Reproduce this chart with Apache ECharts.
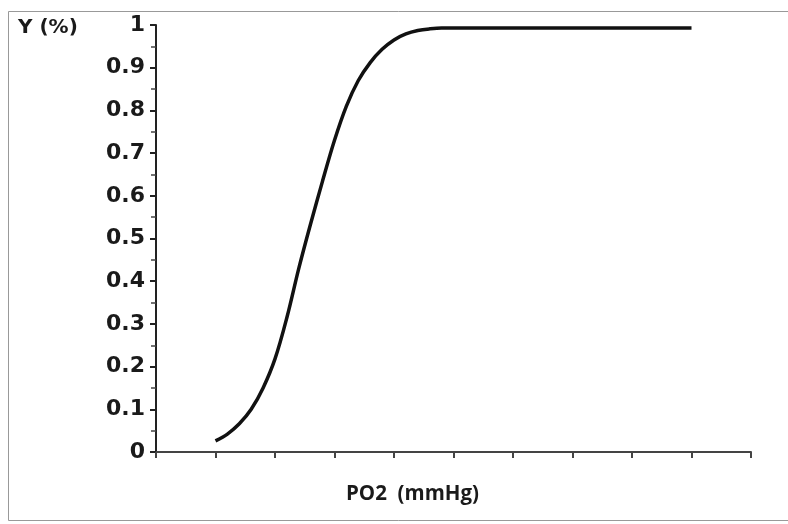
<!DOCTYPE html>
<html>
<head>
<meta charset="utf-8">
<script src="https://cdn.jsdelivr.net/npm/echarts@6/dist/echarts.min.js"></script>
<style>html,body{margin:0;padding:0;background:#fff}#c{width:788px;height:524px}</style>
</head>
<body>
<div id="c"></div>
<script>
// PO2 (mmHg) values (axis units: one tick = 10)
const po2 = [10, 12, 14, 16, 18, 20, 22, 24, 26, 28, 30, 32, 34, 36, 38, 40, 42, 44, 46, 48, 50, 60, 70, 80, 90];
// Saturation Y
const satY = [0.026, 0.042, 0.066, 0.10, 0.15, 0.218, 0.315, 0.43, 0.535, 0.635, 0.73, 0.81, 0.87, 0.912, 0.943, 0.965, 0.979, 0.987, 0.991, 0.993, 0.993, 0.993, 0.993, 0.993, 0.993];
const yTickLabels = ['0','0.1','0.2','0.3','0.4','0.5','0.6','0.7','0.8','0.9','1'];
const yAxisTitle = 'Y (%)';
const xAxisTitle = 'PO2  (mmHg)';

const chart = echarts.init(document.getElementById('c'));
chart.setOption({
  animation: false,
  backgroundColor: '#fff',
  grid: { left: 156, right: 37, top: 25, bottom: 72 },
  xAxis: {
    type: 'value', min: 0, max: 100, interval: 10,
    axisLine: { show: true, lineStyle: { color: '#444', width: 2 } },
    axisTick: { show: true, inside: false, length: 6, lineStyle: { color: '#444', width: 2 } },
    axisLabel: { show: false },
    splitLine: { show: false }
  },
  yAxis: {
    type: 'value', min: 0, max: 1, interval: 0.1,
    axisLine: { show: true, lineStyle: { color: '#222', width: 2 } },
    axisTick: { show: true, length: 6, lineStyle: { color: '#222', width: 2 } },
    minorTick: { show: true, splitNumber: 2, length: 5, lineStyle: { color: '#444', width: 1.5 } },
    axisLabel: {
      margin: 11,
      fontFamily: 'DejaVu Sans', fontWeight: 'bold', fontSize: 22, color: '#1a1a1a',
      formatter: (v) => yTickLabels[Math.round(v * 10)]
    },
    splitLine: { show: false }
  },
  series: [{
    type: 'line',
    data: po2.map((x, i) => [x, satY[i]]),
    smooth: 0.35,
    showSymbol: false,
    lineStyle: { color: '#111', width: 3.5 }
  }],
  graphic: [
    { type: 'rect', shape: { x: 8.5, y: 11.5, width: 800, height: 509 }, style: { fill: 'none', stroke: '#999', lineWidth: 1 } },
    { type: 'text', left: 18, top: 18, style: { text: yAxisTitle, font: 'bold 20px "DejaVu Sans"', fill: '#1a1a1a' } },
    { type: 'text', left: 346, top: 484, style: { text: xAxisTitle, font: 'bold 20.5px "Open Sans"', fill: '#1a1a1a' } }
  ]
});
</script>
</body>
</html>
